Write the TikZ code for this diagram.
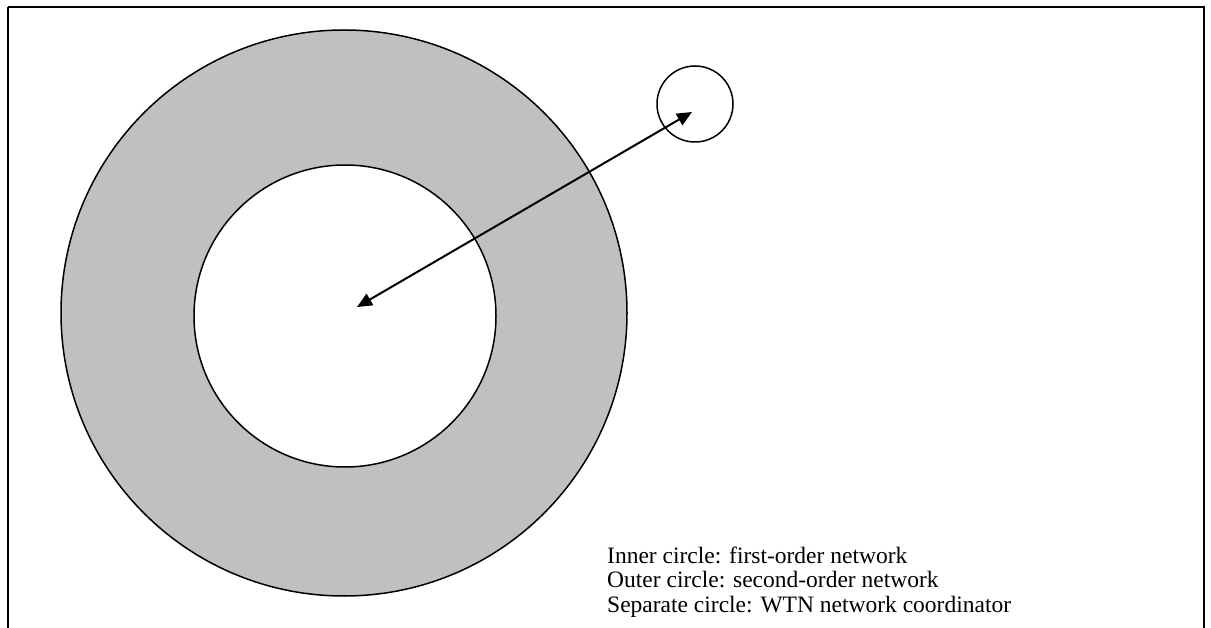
\documentclass[tikz,border=0pt]{standalone}
\usepackage{fontspec}
\setmainfont{Liberation Serif}
\usetikzlibrary{arrows.meta}
\definecolor{ringgray}{RGB}{192,192,192}
\tikzset{
  ring/.style={circle, draw=black, line width=1.5pt, inner sep=0pt},
  conn/.style={line width=2pt, {Triangle[length=15pt,width=13pt]}-{Triangle[length=15pt,width=13pt]}},
  legend/.style={anchor=base west, inner sep=0pt, font=\fontsize{23.5}{24}\selectfont}
}
\begin{document}
\begin{tikzpicture}[x=1pt,y=-1pt]
\useasboundingbox (0,0) rectangle (1211,628);
\clip (0,0) rectangle (1211,628);
\draw[line width=1.8pt] (8,7) -- (1204,7) -- (1204,640) (8,7) -- (8,640);
\node[ring, fill=ringgray, minimum size=566pt] (outer) at (344,313) {};
\node[ring, fill=white, minimum size=302pt] (inner) at (345,316) {};
\node[ring, minimum size=76pt] (coord) at (695,104) {};
\coordinate (a) at (357,307);
\coordinate (b) at (692,112);
\draw[conn] (a) -- (b);
\node[legend] (l1) at (607,563) {Inner circle: first-order network};
\node[legend] (l2) at (607,587.5) {Outer circle: second-order network};
\node[legend] (l3) at (607,612) {Separate circle: WTN network coordinator};
\end{tikzpicture}
\end{document}
